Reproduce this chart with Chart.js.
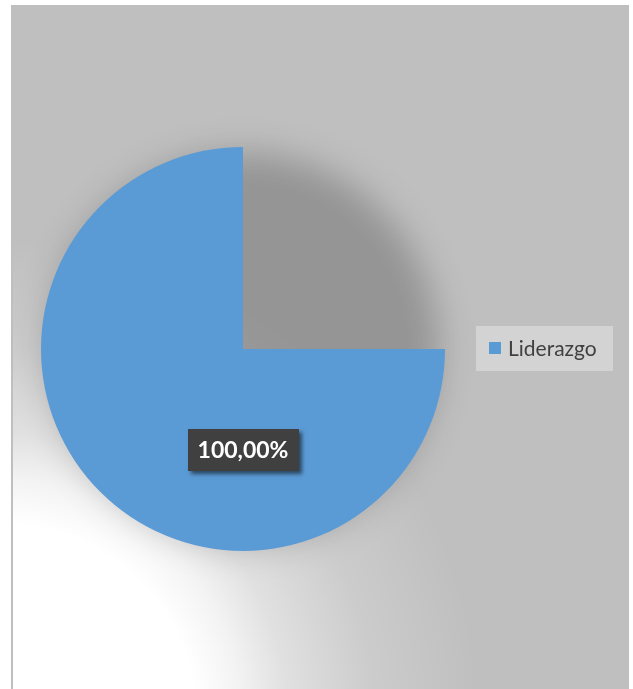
<!DOCTYPE html>
<html>
<head>
<meta charset="utf-8">
<script src="https://cdn.jsdelivr.net/npm/chart.js@4/dist/chart.umd.min.js"></script>
<style>
  html, body { margin: 0; padding: 0; background: #ffffff; }
  #wrap { position: relative; width: 633px; height: 689px; }
</style>
</head>
<body>
<div id="wrap"><canvas id="chart" width="633" height="689"></canvas></div>
<script>
// Chart data
const categories = ['Liderazgo'];
const shares = [1.0];           // fraction of respondents
const sliceColors = ['#5b9bd5'];

// Percent text in Spanish format: 100,00%
function pctLabel(v, total) {
  return (v / total * 100).toFixed(2).replace('.', ',') + '%';
}

// Frame, light wash and the soft shadow behind the pie
const backdrop = {
  id: 'backdrop',
  beforeDraw(chart) {
    const ctx = chart.ctx;
    ctx.save();
    ctx.fillStyle = '#ffffff';
    ctx.fillRect(0, 0, chart.width, chart.height);
    ctx.fillStyle = '#bfbfbf';
    ctx.fillRect(11, 5, 618, 684);
    ctx.beginPath();
    ctx.rect(13, 5, 616, 684);
    ctx.clip();
    const g = ctx.createRadialGradient(0, 720, 0, 0, 720, 480);
    g.addColorStop(0, 'rgba(255,255,255,1)');
    g.addColorStop(0.41, 'rgba(255,255,255,1)');
    g.addColorStop(0.50, 'rgba(255,255,255,0.82)');
    g.addColorStop(0.60, 'rgba(255,255,255,0.52)');
    g.addColorStop(0.78, 'rgba(255,255,255,0.2)');
    g.addColorStop(1, 'rgba(255,255,255,0)');
    ctx.fillStyle = g;
    ctx.fillRect(13, 5, 616, 684);
    ctx.restore();
  },
  beforeDatasetsDraw(chart) {
    const arc = chart.getDatasetMeta(0).data[0];
    if (!arc) return;
    const ctx = chart.ctx;
    ctx.save();
    ctx.filter = 'blur(17px)';
    ctx.fillStyle = 'rgba(0,0,0,0.22)';
    ctx.beginPath();
    ctx.arc(arc.x, arc.y, arc.outerRadius - 6, 0, Math.PI * 2);
    ctx.fill();
    ctx.restore();
  }
};

// Value label in a dark box below the centre
const valueLabel = {
  id: 'valueLabel',
  afterDatasetsDraw(chart) {
    const ds = chart.data.datasets[0];
    const total = ds.data.reduce((a, b) => a + b, 0);
    const ctx = chart.ctx;
    chart.getDatasetMeta(0).data.forEach((arc, i) => {
      const text = pctLabel(ds.data[i], total);
      const cx = arc.x;
      const cy = arc.y + arc.outerRadius * 0.5;
      ctx.save();
      ctx.font = 'bold 23px Lato, "Liberation Sans", sans-serif';
      const w = 111;
      const h = 42;
      ctx.shadowColor = 'rgba(0,0,0,0.55)';
      ctx.shadowBlur = 4;
      ctx.shadowOffsetX = 3;
      ctx.shadowOffsetY = 3;
      ctx.fillStyle = '#404040';
      ctx.fillRect(Math.round(cx - w / 2), Math.round(cy - h / 2), w, h);
      ctx.shadowColor = 'transparent';
      ctx.fillStyle = '#ffffff';
      ctx.textAlign = 'center';
      ctx.textBaseline = 'middle';
      ctx.fillText(text, cx, cy + 1);
      ctx.restore();
    });
  }
};

// Legend panel to the right of the pie
const legendPanel = {
  id: 'legendPanel',
  afterDraw(chart) {
    const ctx = chart.ctx;
    const ds = chart.data.datasets[0];
    ctx.save();
    ctx.fillStyle = '#d3d3d3';
    ctx.fillRect(476, 326, 137, 45);
    chart.data.labels.forEach((lab, i) => {
      ctx.fillStyle = ds.backgroundColor[i];
      ctx.fillRect(489, 342, 12, 12);
      ctx.fillStyle = '#404040';
      ctx.font = '21px Lato, "Liberation Sans", sans-serif';
      ctx.textBaseline = 'alphabetic';
      ctx.textAlign = 'left';
      ctx.fillText(lab, 508, 356);
    });
    ctx.restore();
  }
};

new Chart(document.getElementById('chart'), {
  type: 'pie',
  data: {
    labels: categories,
    datasets: [{
      data: shares,
      backgroundColor: sliceColors,
      borderWidth: 0,
      radius: 202
    }]
  },
  options: {
    responsive: false,
    animation: false,
    rotation: 90,
    circumference: 270,
    layout: { padding: { left: 41, right: 188, top: 147, bottom: 138 } },
    plugins: {
      legend: { display: false },
      tooltip: { enabled: false }
    }
  },
  plugins: [backdrop, valueLabel, legendPanel]
});
</script>
</body>
</html>
